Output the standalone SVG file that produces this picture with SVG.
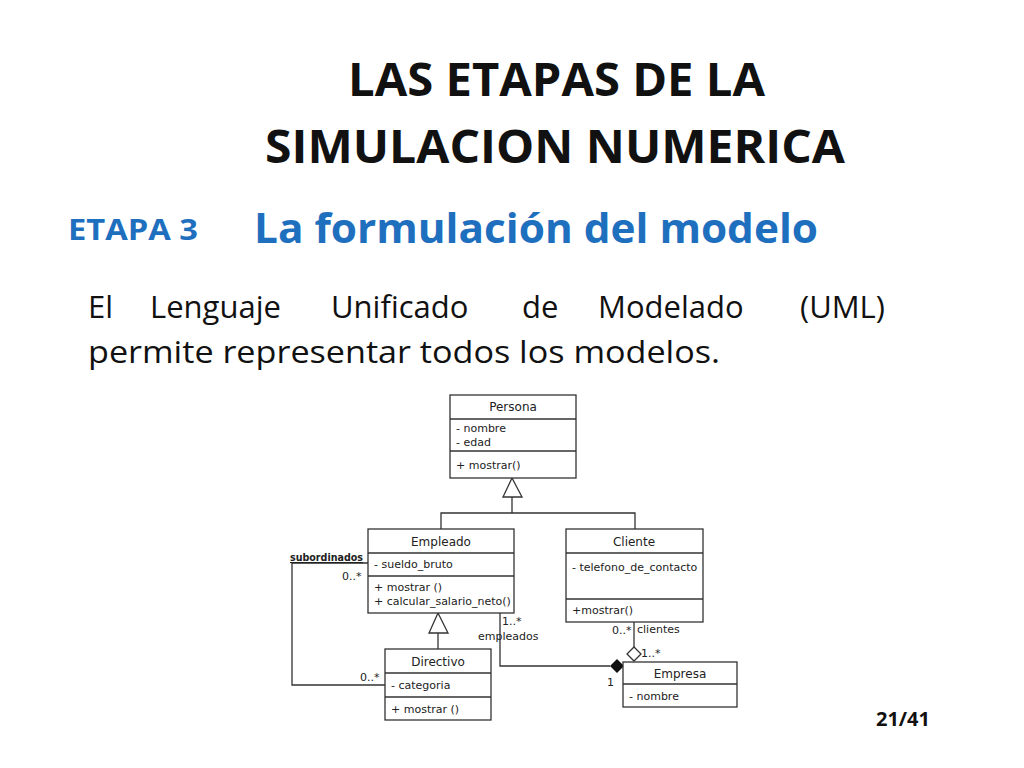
<svg xmlns="http://www.w3.org/2000/svg" width="1024" height="768" viewBox="0 0 1024 768">
<style>
.t{font-family:"Open Sans","Liberation Sans",sans-serif}
.h{font-family:"Open Sans","Liberation Sans",sans-serif;font-weight:bold}
.b{fill:#fff;stroke:#333;stroke-width:1.3}
.l{fill:none;stroke:#333;stroke-width:1.3}
.u{font-family:"DejaVu Sans",sans-serif;font-size:11px;fill:#222}
.c{font-family:"DejaVu Sans",sans-serif;font-size:12px;fill:#222;text-anchor:middle}
</style>
<rect width="1024" height="768" fill="#fff"/>
<text class="h" x="348" y="96" font-size="46" fill="#111" textLength="417" lengthAdjust="spacingAndGlyphs">LAS ETAPAS DE LA</text>
<text class="h" x="265" y="163" font-size="46" fill="#111" textLength="580" lengthAdjust="spacingAndGlyphs">SIMULACION NUMERICA</text>
<text class="h" x="68" y="240" font-size="28" fill="#1f6fbf" textLength="130" lengthAdjust="spacingAndGlyphs">ETAPA 3</text>
<text class="h" x="254" y="243" font-size="42" fill="#1f6fbf" textLength="564" lengthAdjust="spacingAndGlyphs">La formulación del modelo</text>
<text class="t" y="318" font-size="31" fill="#111"><tspan x="88">El</tspan> <tspan x="150">Lenguaje</tspan> <tspan x="331">Unificado</tspan> <tspan x="522">de</tspan> <tspan x="598">Modelado</tspan> <tspan x="800">(UML)</tspan></text>
<text class="t" x="88" y="363" font-size="31" fill="#111" textLength="632" lengthAdjust="spacingAndGlyphs">permite representar todos los modelos.</text>
<g id="connectors">
<polyline class="l" points="512,497 512,513"/>
<polyline class="l" points="441,529 441,513 635,513 635,529"/>
<polygon class="b" points="512,478 503,497 522,497"/>
<polyline class="l" points="438,633 438,649"/>
<polygon class="b" points="438,613 429,633 448,633"/>
<polyline class="l" points="368,563 292,563 292,685 385,685"/>
<polyline class="l" points="500,613 500,666 610,666"/>
<polygon points="610,666 617,659 624,666 617,673" fill="#111"/>
<polyline class="l" points="634,622 634,647"/>
<polygon class="b" points="634,647 641,654 634,661 627,654"/>
<text class="u" x="290" y="561" font-weight="bold" text-decoration="underline" textLength="73" lengthAdjust="spacingAndGlyphs">subordinados</text>
<text class="u" x="342" y="580">0..*</text>
<text class="u" x="502" y="625">1..*</text>
<text class="u" x="478" y="640">empleados</text>
<text class="u" x="612" y="634">0..*</text>
<text class="u" x="637" y="633">clientes</text>
<text class="u" x="641" y="657">1..*</text>
<text class="u" x="607" y="686">1</text>
<text class="u" x="360" y="681">0..*</text>
</g>
<g id="persona">
<rect class="b" x="450" y="395" width="126" height="83"/>
<line class="l" x1="450" y1="419" x2="576" y2="419"/><line class="l" x1="450" y1="451" x2="576" y2="451"/>
<text class="c" x="513" y="411">Persona</text>
<text class="u" x="456" y="432">- nombre</text><text class="u" x="456" y="446">- edad</text>
<text class="u" x="456" y="469">+ mostrar()</text>
</g>
<g id="empleado">
<rect class="b" x="368" y="529" width="146" height="84"/>
<line class="l" x1="368" y1="553" x2="514" y2="553"/><line class="l" x1="368" y1="576" x2="514" y2="576"/>
<text class="c" x="441" y="546">Empleado</text>
<text class="u" x="374" y="568">- sueldo_bruto</text>
<text class="u" x="374" y="591">+ mostrar ()</text>
<text class="u" x="374" y="605">+ calcular_salario_neto()</text>
</g>
<g id="cliente">
<rect class="b" x="566" y="529" width="137" height="93"/>
<line class="l" x1="566" y1="553" x2="703" y2="553"/><line class="l" x1="566" y1="599" x2="703" y2="599"/>
<text class="c" x="634" y="546">Cliente</text>
<text class="u" x="572" y="571">- telefono_de_contacto</text>
<text class="u" x="572" y="614">+mostrar()</text>
</g>
<g id="directivo">
<rect class="b" x="385" y="649" width="106" height="71"/>
<line class="l" x1="385" y1="673" x2="491" y2="673"/><line class="l" x1="385" y1="697" x2="491" y2="697"/>
<text class="c" x="438" y="666">Directivo</text>
<text class="u" x="391" y="689">- categoria</text>
<text class="u" x="391" y="713">+ mostrar ()</text>
</g>
<g id="empresa">
<rect class="b" x="623" y="662" width="114" height="45"/>
<line class="l" x1="623" y1="684" x2="737" y2="684"/>
<text class="c" x="680" y="678">Empresa</text>
<text class="u" x="629" y="700">- nombre</text>
</g>
<text class="h" x="930" y="726" font-size="20" text-anchor="end" fill="#111">21/41</text>
</svg>
